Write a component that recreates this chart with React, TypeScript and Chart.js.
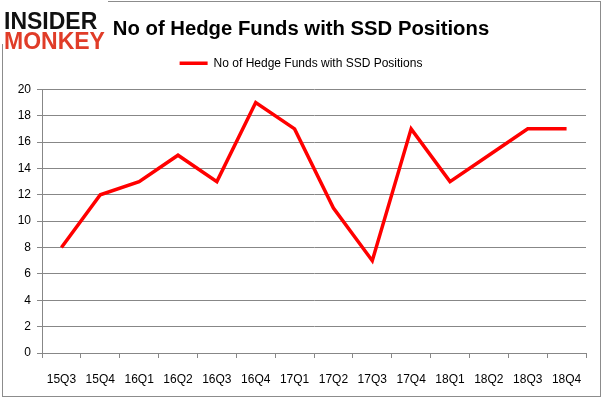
import React, { useEffect, useRef } from "react";
import { Chart, registerables } from "chart.js";

Chart.register(...registerables);

const categories = ["15Q3", "15Q4", "16Q1", "16Q2", "16Q3", "16Q4", "17Q1", "17Q2", "17Q3", "17Q4", "18Q1", "18Q2", "18Q3", "18Q4"];
const hedgeFunds = [8, 12, 13, 15, 13, 19, 17, 11, 7, 17, 13, 15, 17, 17];
const seriesLabel = "No of Hedge Funds with SSD Positions";
const titleText = "No of Hedge Funds with SSD Positions";

const FONT = "'Liberation Sans', Arial, sans-serif";
const GRID = "#878787";

const legendGapPlugin = {
  id: "legendGap",
  beforeLayout(chart: any) {
    const lg = chart.legend;
    if (lg && !lg.__gapPatched) {
      lg.__gapPatched = true;
      const origFit = lg.fit.bind(lg);
      lg.fit = function () {
        origFit();
        this.height += 10;
      };
    }
  },
};

const framePlugin = {
  id: "frame",
  afterDraw(chart: any) {
    const ctx = chart.ctx;
    ctx.save();
    ctx.strokeStyle = "#8c8c8c";
    ctx.lineWidth = 1;
    ctx.strokeRect(2.5, 1.5, 598, 395);
    ctx.fillStyle = "#ffffff";
    ctx.fillRect(0, 0, 108, 44);
    ctx.textBaseline = "alphabetic";
    ctx.textAlign = "left";
    ctx.font = `bold 23px ${FONT}`;
    ctx.fillStyle = "#111111";
    ctx.fillText("INSIDER", 4, 29);
    ctx.fillStyle = "#e03c28";
    ctx.fillText("MONKEY", 4, 49);
    ctx.restore();
  },
};

export default function App() {
  const ref = useRef<HTMLCanvasElement | null>(null);
  useEffect(() => {
    document.body.style.margin = "0";
    const canvas = ref.current!;
    const chart = new Chart(canvas, {
      type: "line",
      data: {
        labels: categories,
        datasets: [
          {
            label: seriesLabel,
            data: hedgeFunds,
            borderColor: "#ff0000",
            backgroundColor: "#ff0000",
            borderWidth: 3.5,
            pointRadius: 0,
            tension: 0,
          },
        ],
      },
      options: {
        animation: false,
        responsive: false,
        layout: { padding: { top: 0, right: 0, bottom: 0, left: 0 } },
        plugins: {
          title: {
            display: true,
            text: titleText,
            color: "#000000",
            font: { family: FONT, size: 20.3, weight: "bold", lineHeight: 1.0 },
            padding: { top: 19, bottom: 0 },
          },
          legend: {
            display: true,
            labels: {
              color: "#000000",
              font: { family: FONT, size: 12 },
              usePointStyle: true,
              pointStyle: "line",
              pointStyleWidth: 28,
              boxWidth: 28,
              padding: 18,
            },
          },
          tooltip: { enabled: false },
        },
        scales: {
          x: {
            offset: true,
            grid: { display: true, drawOnChartArea: false, color: GRID, tickLength: 5, offset: true },
            border: { color: GRID },
            ticks: { color: "#000000", font: { family: FONT, size: 12 }, padding: 14, maxRotation: 0, autoSkip: false },
            afterFit: (scale: any) => {
              scale.height = 45;
            },
          },
          y: {
            min: 0,
            max: 20,
            ticks: { stepSize: 2, color: "#000000", font: { family: FONT, size: 12 }, padding: 6 },
            grid: { color: GRID, tickLength: 5 },
            border: { color: GRID },
            afterFit: (scale: any) => {
              scale.width = 42;
            },
          },
          yRight: {
            position: "right",
            display: true,
            min: 0,
            max: 20,
            grid: { display: false, drawOnChartArea: false },
            border: { display: false },
            ticks: { display: false },
            afterFit: (scale: any) => {
              scale.width = 16;
            },
          },
        },
      },
      plugins: [legendGapPlugin, framePlugin],
    });
    return () => chart.destroy();
  }, []);
  return <canvas ref={ref} width={602} height={398} style={{ display: "block" }} />;
}
